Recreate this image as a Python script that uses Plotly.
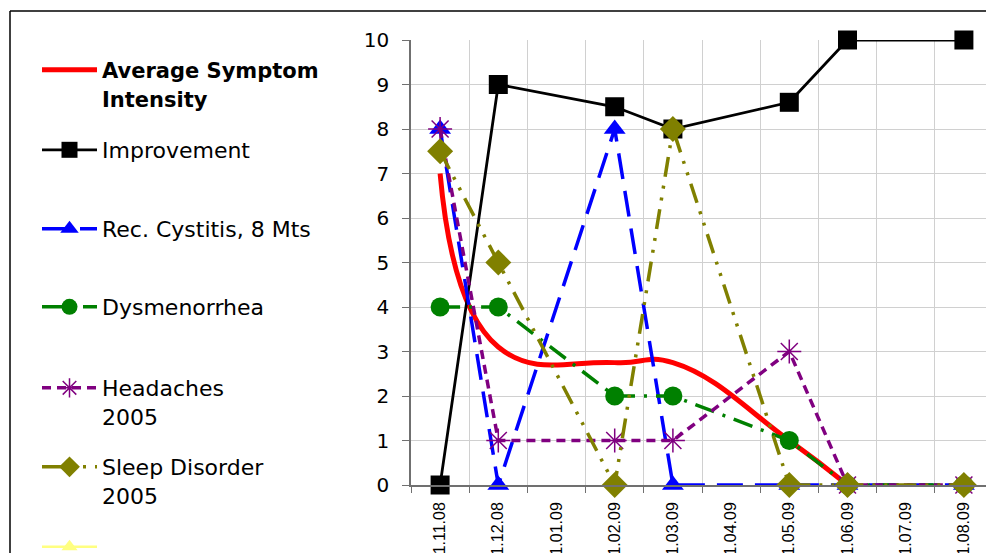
import plotly.graph_objects as go

# ---------------- data ----------------
dates = ["01.11.08", "01.12.08", "01.01.09", "01.02.09", "01.03.09",
         "01.04.09", "01.05.09", "01.06.09", "01.07.09", "01.08.09"]
avg_intensity = [7, 3.1, None, 2.75, 2.75, None, 1, 0, None, None]
improvement = [0, 9, None, 8.5, 8, None, 8.6, 10, None, 10]
cystitis = [8, 0, None, 8, 0, None, 0, 0, None, 0]
dysmenorrhea = [4, 4, None, 2, 2, None, 1, 0, None, 0]
headaches = [8, 1, None, 1, 1, None, 3, 0, None, 0]
sleep_disorder = [7.5, 5, None, 0, 8, None, 0, 0, None, 0]
extra_series = [None] * 10
y_ticks = list(range(0, 11))

# ---------------- layout constants (pixels) ----------------
W, H = 986, 553
PL, PR, PT, PB = 411, 986, 40, 485  # plot area edges
CAT_W = 58.2
x_max = -0.5 + (PR - PL) / CAT_W

FONT = "Liberation Sans, Arial, sans-serif"
WIDE_FONT = "DejaVu Sans, Liberation Sans, sans-serif"
LEG_FS = 22

fig = go.Figure()

def add(name, y, color, width, dash, symbol=None, msize=0, legend="legend",
        shape="linear", mline=None):
    marker = dict(symbol=symbol or "circle", size=msize, color=color)
    if mline:
        marker["line"] = mline
    fig.add_trace(go.Scatter(
        x=dates, y=y, name=name, legend=legend, showlegend=True,
        mode="lines+markers" if symbol else "lines",
        line=dict(color=color, width=width, dash=dash, shape=shape, smoothing=1.3),
        marker=marker, connectgaps=True, cliponaxis=False,
    ))

add("<span style='font-size:21px'><b>Average Symptom<br>Intensity</b></span>",
    avg_intensity, "#FF0000", 5, "solid", legend="legend", shape="spline")
add("Improvement", improvement, "#000000", 2.8, "solid", "square", 19, "legend2")
add("Rec. Cystitis, 8 Mts", cystitis, "#0000FF", 3.5, "26px,12px", "triangle-up", 19, "legend3")
add("Dysmenorrhea", dysmenorrhea, "#008000", 3.5, "20px,9px,3px,9px", "circle", 19, "legend4")
add("Headaches<br>2005", headaches, "#800080", 3.5, "9px,6px", "asterisk-open", 20, "legend5",
    mline=dict(color="#800080", width=1.5))
add("Sleep Disorder<br>2005", sleep_disorder, "#808000", 3.5, "20px,9px,3px,9px,3px,9px",
    "diamond", 20, "legend6")
add(" ", extra_series, "#FFFF80", 2.5, "solid", "triangle-up", 14, "legend7")

first_line_y = [71, 151, 230, 308, 389, 468, 548]
legend_keys = ["legend", "legend2", "legend3", "legend4", "legend5", "legend6", "legend7"]
legends = {}
for key, yc in zip(legend_keys, first_line_y):
    legends[key] = dict(
        xref="container", yref="container",
        x=37 / W, y=1 - (yc - 22) / H,
        xanchor="left", yanchor="top",
        bgcolor="rgba(0,0,0,0)", borderwidth=0,
        font=dict(family=WIDE_FONT, size=LEG_FS, color="#000000"),
        itemwidth=55, valign="top", itemclick=False, itemdoubleclick=False,
        visible=True,
    )

def px_x(p):
    return (p - PL) / (PR - PL)

def px_y(p):
    return (PB - p) / (PB - PT)

shapes = [
    dict(type="line", xref="paper", yref="paper",
         x0=px_x(10), x1=px_x(1000), y0=px_y(11), y1=px_y(11),
         line=dict(color="#000000", width=1.5)),
    dict(type="line", xref="paper", yref="paper",
         x0=px_x(10), x1=px_x(10), y0=px_y(11), y1=px_y(560),
         line=dict(color="#000000", width=1.5)),
]

fig.update_layout(
    width=W, height=H, showlegend=True,
    margin=dict(l=PL, r=W - PR, t=PT, b=H - PB, pad=0, autoexpand=False),
    paper_bgcolor="#FFFFFF", plot_bgcolor="#FFFFFF",
    font=dict(family=FONT, color="#000000"),
    shapes=shapes,
    **legends,
)

fig.update_xaxes(
    type="category", categoryorder="array", categoryarray=dates,
    range=[-0.5, x_max], tickson="boundaries", automargin=False,
    showgrid=True, gridcolor="#D0D0D0", gridwidth=1,
    showline=True, linecolor="#707070", linewidth=1.5,
    ticks="outside", ticklen=6, tickcolor="#707070",
    tickangle=-90, ticklabelstandoff=9,
    tickfont=dict(family=FONT, size=16, color="#000000"),
    zeroline=False, fixedrange=True,
)
fig.update_yaxes(
    range=[0, 10], tickvals=y_ticks, ticktext=[str(v) for v in y_ticks],
    showgrid=True, gridcolor="#D0D0D0", gridwidth=1, automargin=False,
    showline=True, linecolor="#707070", linewidth=1.5,
    ticks="outside", ticklen=7, tickcolor="#707070", ticklabelstandoff=9,
    tickfont=dict(family=WIDE_FONT, size=20, color="#000000"),
    zeroline=False, fixedrange=True,
)

fig.write_html("out.html", config={"displayModeBar": False},
               post_script="document.body.style.margin='0';document.body.style.overflow='hidden';")
